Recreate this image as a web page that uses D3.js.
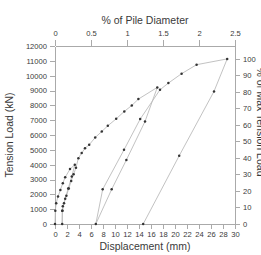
<!DOCTYPE html>
<html lang="en">
<head>
<meta charset="utf-8">
<title>Tension load test</title>
<script src="https://d3js.org/d3.v7.min.js"></script>
<style>
  body { margin: 0; background: #fff; }
  .axis path, .axis line { stroke: #aaa; shape-rendering: crispEdges; }
  .axis text { font-family: "Liberation Sans", Arial, sans-serif; font-size: 7.6px; fill: #3a3a3a; }
  .title { font-family: "Liberation Sans", Arial, sans-serif; font-size: 10.5px; fill: #3a3a3a; }
</style>
</head>
<body>
<script>
// test sequence: displacement (mm) and tension load (kN), in loading order
var disp = [0, 0.05, 0.2, 0.5, 0.9, 1.3, 1.7, 2.5, 3.3,
            2.8, 2.2, 1.7, 1.3, 1.2, 1.2,
            1.25, 1.5, 1.9, 2.3, 2.7, 3.1, 3.5, 3.9,
            4.45, 5.0, 5.7, 6.7, 7.8, 8.8, 10.2, 11.55, 12.8, 13.9, 17.05,
            15.0, 11.9, 9.45, 6.8,
            7.95, 11.5, 14.2, 17.5,
            18.9, 21.1, 23.6, 28.7,
            26.5, 20.7, 14.7];
var load = [0, 900, 1400, 1850, 2300, 2750, 3150, 3700, 4000,
            3200, 2400, 1700, 1200, 900, 0,
            900, 1400, 1900, 2400, 2900, 3350, 3800, 4440,
            4780, 5110, 5340, 5830, 6240, 6620, 7090, 7590, 7990, 8420, 9210,
            6910, 4320, 2340, 0,
            2340, 5000, 7075, 9050,
            9500, 10135, 10740, 11130,
            8940, 4600, 0];

var dispTicks = [0, 2, 4, 6, 8, 10, 12, 14, 16, 18, 20, 22, 24, 26, 28, 30];
var loadTicks = [0, 1000, 2000, 3000, 4000, 5000, 6000, 7000, 8000, 9000, 10000, 11000, 12000];
var pctDiaTicks = [0, 0.5, 1, 1.5, 2, 2.5];
var pctLoadTicks = [0, 10, 20, 30, 40, 50, 60, 70, 80, 90, 100];

var w = 261, h = 255;
var pLeft = 55, pRight = 235, pTop = 46, pBottom = 224;

var svg = d3.select("body").append("svg")
    .attr("width", w)
    .attr("height", h);

var x = d3.scaleLinear().domain([0, 30]).range([pLeft, pRight]);
var y = d3.scaleLinear().domain([0, 12000]).range([pBottom, pTop]);
var xTop = d3.scaleLinear().domain([0, 2.5]).range([pLeft, pRight]);
var maxLoad = d3.max(load);
var yRight = d3.scaleLinear().domain([0, 100]).range([pBottom, y(maxLoad)]);

svg.append("g").attr("class", "axis")
    .attr("transform", "translate(0," + pBottom + ")")
    .call(d3.axisBottom(x).tickValues(dispTicks).tickSize(5).tickSizeOuter(0).tickPadding(3));
svg.append("g").attr("class", "axis")
    .attr("transform", "translate(0," + pTop + ")")
    .call(d3.axisTop(xTop).tickValues(pctDiaTicks).tickFormat(d3.format("")).tickSize(6).tickSizeOuter(0).tickPadding(4));
svg.append("g").attr("class", "axis")
    .attr("transform", "translate(" + pLeft + ",0)")
    .call(d3.axisLeft(y).tickValues(loadTicks).tickFormat(d3.format("d")).tickSize(5).tickSizeOuter(0).tickPadding(3));
var ra = svg.append("g").attr("class", "axis")
    .attr("transform", "translate(" + pRight + ",0)")
    .call(d3.axisRight(yRight).tickValues(pctLoadTicks).tickSize(5).tickSizeOuter(0).tickPadding(3));
// right axis line spans the full plot height
ra.select(".domain").attr("d", "M0," + pTop + "V" + pBottom);

var pts = d3.range(disp.length).map(function(i) { return [disp[i], load[i]]; });

var line = d3.line()
    .x(function(d) { return x(d[0]); })
    .y(function(d) { return y(d[1]); });

svg.append("path")
    .datum(pts)
    .attr("d", line)
    .attr("fill", "none")
    .attr("stroke", "#bbb")
    .attr("stroke-width", 0.9);

svg.selectAll("circle")
    .data(pts)
    .enter()
    .append("circle")
    .attr("cx", function(d) { return x(d[0]); })
    .attr("cy", function(d) { return y(d[1]); })
    .attr("r", 1.25)
    .attr("fill", "#333");

svg.append("text").attr("class", "title")
    .attr("x", (pLeft + pRight) / 2).attr("y", 250)
    .attr("text-anchor", "middle")
    .text("Displacement (mm)");
svg.append("text").attr("class", "title")
    .attr("x", (pLeft + pRight) / 2).attr("y", 24)
    .attr("text-anchor", "middle")
    .text("% of Pile Diameter");
svg.append("text").attr("class", "title")
    .attr("transform", "translate(13," + ((pTop + pBottom) / 2) + ") rotate(-90)")
    .attr("text-anchor", "middle")
    .text("Tension Load (kN)");
svg.append("text").attr("class", "title")
    .attr("transform", "translate(257,122) rotate(90)")
    .attr("text-anchor", "middle")
    .text("% of Max Tension Load");
</script>
</body>
</html>
